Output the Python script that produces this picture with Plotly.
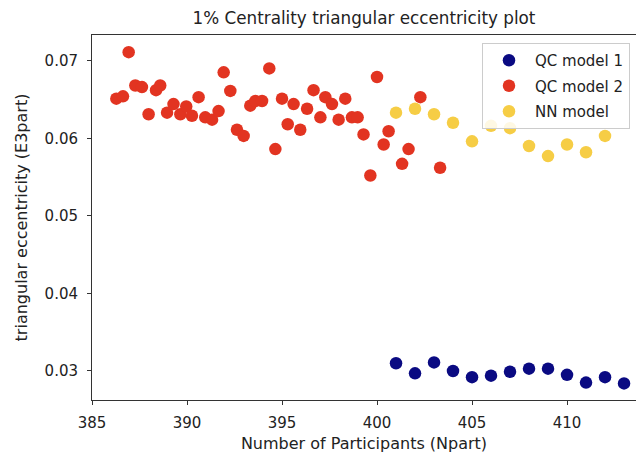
import plotly.graph_objects as go

# QC model 1 (blue)
qc1_x = [401, 402, 403, 404, 405, 406, 407, 408, 409, 410, 411, 412, 413]
qc1_y = [0.0310, 0.0297, 0.0311, 0.0300, 0.0292, 0.0294, 0.0299, 0.0303, 0.0303,
         0.0295, 0.0285, 0.0292, 0.0284]

# QC model 2 (red)
qc2_x = [386.28, 386.63, 386.93, 387.28, 387.63, 387.98, 388.37, 388.59, 388.95,
         389.29, 389.65, 389.96, 390.26, 390.61, 390.96, 391.32, 391.66, 391.93,
         392.28, 392.63, 392.98, 393.33, 393.60, 393.95, 394.33, 394.65, 395.00,
         395.30, 395.61, 395.96, 396.32, 396.66, 397.02, 397.28, 397.63, 397.98,
         398.33, 398.68, 398.98, 399.29, 399.65, 400.00, 400.35, 400.61, 401.32,
         401.66, 402.28, 403.32]
qc2_y = [0.0651, 0.0654, 0.0711, 0.0668, 0.0666, 0.0631, 0.0662, 0.0668, 0.0633,
         0.0644, 0.0631, 0.0641, 0.0629, 0.0653, 0.0627, 0.0624, 0.0635, 0.0685,
         0.0661, 0.0611, 0.0603, 0.0642, 0.0648, 0.0648, 0.0690, 0.0586, 0.0651,
         0.0618, 0.0644, 0.0611, 0.0638, 0.0662, 0.0627, 0.0653, 0.0644, 0.0624,
         0.0651, 0.0627, 0.0627, 0.0605, 0.0552, 0.0679, 0.0592, 0.0609, 0.0567,
         0.0586, 0.0653, 0.0562]

# NN model (yellow)
nn_x = [401, 402, 403, 404, 405, 406, 407, 408, 409, 410, 411, 412]
nn_y = [0.0633, 0.0638, 0.0631, 0.0620, 0.0596, 0.0616, 0.0613, 0.0590, 0.0577,
        0.0592, 0.0582, 0.0603]

x_ticks = [385, 390, 395, 400, 405, 410]
y_ticks = [0.03, 0.04, 0.05, 0.06, 0.07]

FONT = "DejaVu Sans"
TXT = "#222222"
msize = 12.5
BLUE, RED, YEL = "#0a0a82", "#e23421", "#f6cd45"

fig = go.Figure()
fig.add_trace(go.Scatter(x=nn_x, y=nn_y, mode="markers", name="NN model",
                         marker=dict(color=YEL, size=msize), showlegend=False))
fig.add_trace(go.Scatter(x=qc2_x, y=qc2_y, mode="markers", name="QC model 2",
                         marker=dict(color=RED, size=msize), showlegend=False))
fig.add_trace(go.Scatter(x=qc1_x, y=qc1_y, mode="markers", name="QC model 1",
                         marker=dict(color=BLUE, size=msize), showlegend=False))
# legend entries in reference order
for i, (nm, col) in enumerate([("QC model 1", BLUE), ("QC model 2", RED), ("NN model", YEL)]):
    fig.add_trace(go.Scatter(x=[None], y=[None], mode="markers", name=nm, legendgroup=f"g{i}",
                             marker=dict(color=col, size=msize)))

fig.update_layout(
    width=638, height=456,
    margin=dict(l=92, r=2, t=35, b=56),
    paper_bgcolor="white", plot_bgcolor="white",
    font=dict(family=FONT, size=13.7, color=TXT),
    title=dict(text="1% Centrality triangular eccentricity plot", x=0.5, xref="paper",
               xanchor="center", y=1 - 18 / 456, yanchor="middle",
               font=dict(family=FONT, size=16.8, color=TXT)),
    legend=dict(x=(482 - 92) / 544, y=(400 - 43) / 365, xanchor="left", yanchor="top",
                bgcolor="rgba(255,255,255,0.85)", bordercolor="#cccccc", borderwidth=1,
                font=dict(family=FONT, size=15, color=TXT), traceorder="grouped",
                tracegroupgap=3, itemwidth=42, entrywidth=110, entrywidthmode="pixels"),
    xaxis=dict(range=[385, 413.63], tickvals=x_ticks, ticktext=[str(v) for v in x_ticks],
               showgrid=False, zeroline=False, showline=True, linecolor="#333333",
               linewidth=1, mirror=True, ticks="outside", ticklen=4, tickcolor="#333333",
               ticklabelstandoff=5, tickfont=dict(size=15),
               title=dict(text="Number of Participants (Npart)", standoff=6)),
    yaxis=dict(range=[0.02626, 0.07331], tickvals=y_ticks, ticktext=[f"{v:.2f}" for v in y_ticks],
               showgrid=False, zeroline=False, showline=True, linecolor="#333333",
               linewidth=1, ticks="outside", ticklen=4, tickcolor="#333333",
               ticklabelstandoff=6, tickfont=dict(size=15),
               title=dict(text="triangular eccentricity (E3part)", standoff=12)),
)

fig.write_html("out.html")
